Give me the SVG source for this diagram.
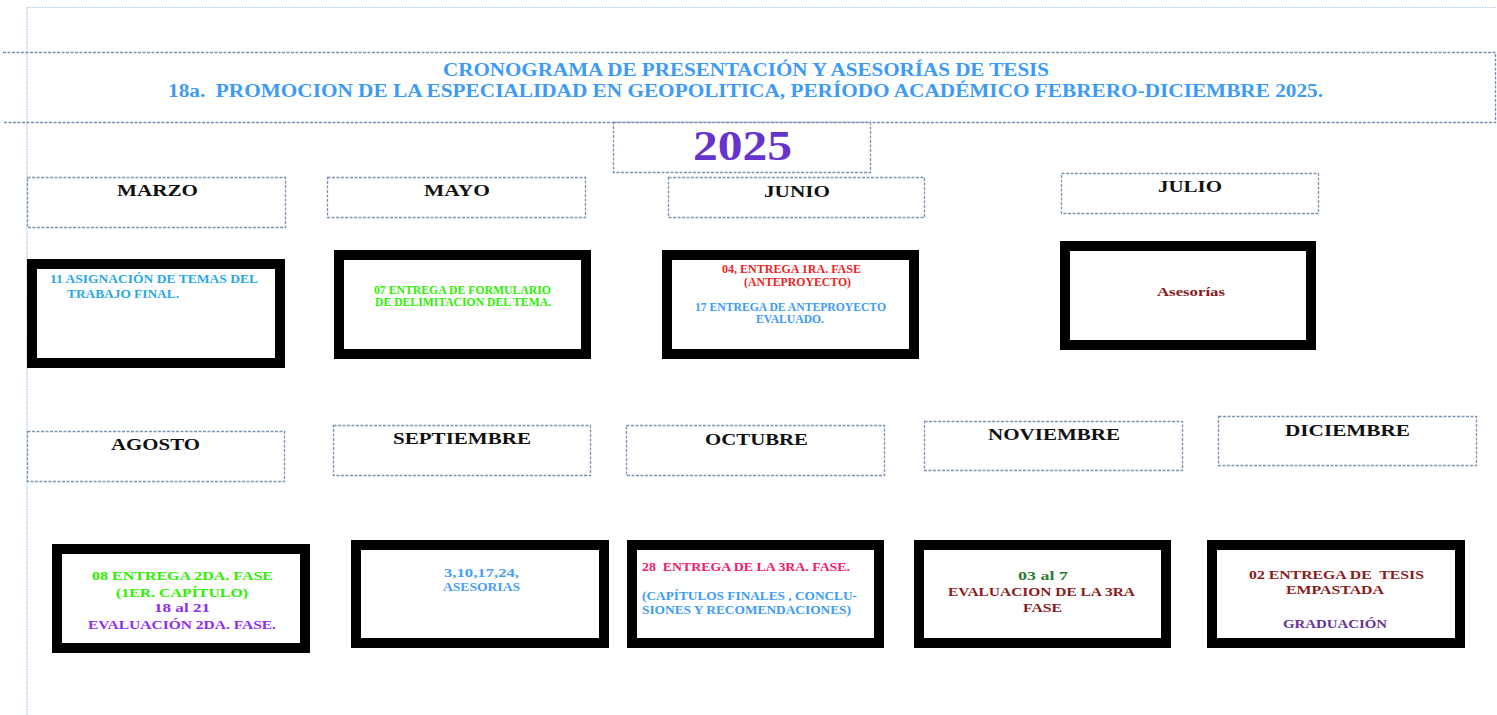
<svg xmlns="http://www.w3.org/2000/svg" width="1497" height="715" viewBox="0 0 1497 715">
<style>
.page{fill:none;stroke:#a9c8ee;stroke-width:1.2;stroke-dasharray:1.5,1}
.band{fill:none;stroke:#7590b3;stroke-width:1.3;stroke-dasharray:3,1.5}
.mbox{fill:#fff;stroke:#7a92b2;stroke-width:1.3;stroke-dasharray:3,1.5}
.cbox{fill:#fff;stroke:#000;stroke-width:10}
.hd{font-family:"Liberation Serif",serif;font-weight:bold;font-size:18px;fill:#3d9bf5}
.mo{font-family:"Liberation Serif",serif;font-weight:bold;font-size:17px;fill:#111}
.t{font-family:"Liberation Serif",serif;font-weight:bold;font-size:12px}
.t13{font-family:"Liberation Serif",serif;font-weight:bold;font-size:13.5px}
.c{text-anchor:middle}
.pre{white-space:pre}
</style>
<rect width="1497" height="715" fill="#fff"/>
<path class="page" d="M27 715 V7.5 H1497"/>
<g id="header">
<path class="band" d="M3 52.5 H1495.5 V122.5 H3"/>
<text class="hd c" x="746" y="76" textLength="606" lengthAdjust="spacingAndGlyphs">CRONOGRAMA DE PRESENTACIÓN Y ASESORÍAS DE TESIS</text>
<text class="hd c pre" x="745.5" y="97" textLength="1155" lengthAdjust="spacingAndGlyphs">18a.  PROMOCION DE LA ESPECIALIDAD EN GEOPOLITICA, PERÍODO ACADÉMICO FEBRERO-DICIEMBRE 2025.</text>
</g>
<g id="year">
<rect class="mbox" x="613.5" y="122.5" width="257" height="50"/>
<text x="742.5" y="160" text-anchor="middle" font-family="Liberation Serif,serif" font-weight="bold" font-size="42" fill="#6633cc" textLength="99" lengthAdjust="spacingAndGlyphs">2025</text>
</g>
<g id="m-marzo"><rect class="mbox" x="27.5" y="177.5" width="258" height="50"/><text class="mo c" x="157.5" y="196" textLength="81" lengthAdjust="spacingAndGlyphs">MARZO</text></g>
<g id="m-mayo"><rect class="mbox" x="327.5" y="177.5" width="258" height="40"/><text class="mo c" x="457" y="196" textLength="66" lengthAdjust="spacingAndGlyphs">MAYO</text></g>
<g id="m-junio"><rect class="mbox" x="668.5" y="177.5" width="256" height="40"/><text class="mo c" x="797" y="197" textLength="66" lengthAdjust="spacingAndGlyphs">JUNIO</text></g>
<g id="m-julio"><rect class="mbox" x="1061.5" y="173.5" width="257" height="40"/><text class="mo c" x="1190" y="192" textLength="64" lengthAdjust="spacingAndGlyphs">JULIO</text></g>
<g id="m-agosto"><rect class="mbox" x="27.5" y="431.5" width="257" height="50"/><text class="mo c" x="155.5" y="450" textLength="89" lengthAdjust="spacingAndGlyphs">AGOSTO</text></g>
<g id="m-septiembre"><rect class="mbox" x="333.5" y="425.5" width="257" height="50"/><text class="mo c" x="462" y="444" textLength="138" lengthAdjust="spacingAndGlyphs">SEPTIEMBRE</text></g>
<g id="m-octubre"><rect class="mbox" x="626.5" y="425.5" width="258" height="50"/><text class="mo c" x="756.5" y="445" textLength="103" lengthAdjust="spacingAndGlyphs">OCTUBRE</text></g>
<g id="m-noviembre"><rect class="mbox" x="924.5" y="421.5" width="258" height="49"/><text class="mo c" x="1054" y="440" textLength="132" lengthAdjust="spacingAndGlyphs">NOVIEMBRE</text></g>
<g id="m-diciembre"><rect class="mbox" x="1218.5" y="416.5" width="258" height="49"/><text class="mo c" x="1347.5" y="436" textLength="125" lengthAdjust="spacingAndGlyphs">DICIEMBRE</text></g>
<g id="b-marzo">
<rect class="cbox" x="32" y="264" width="248" height="99"/>
<text class="t" fill="#2aa8e6" x="50" y="283" textLength="208" lengthAdjust="spacingAndGlyphs">11 ASIGNACIÓN DE TEMAS DEL</text>
<text class="t" fill="#2aa8e6" x="67" y="298" textLength="112" lengthAdjust="spacingAndGlyphs">TRABAJO FINAL.</text>
</g>
<g id="b-mayo">
<rect class="cbox" x="339" y="255" width="247" height="99"/>
<text class="t c" fill="#2ef000" x="462.5" y="294" textLength="177" lengthAdjust="spacingAndGlyphs">07 ENTREGA DE FORMULARIO</text>
<text class="t c" fill="#2ef000" x="463" y="306" textLength="176" lengthAdjust="spacingAndGlyphs">DE DELIMITACION DEL TEMA.</text>
</g>
<g id="b-junio">
<rect class="cbox" x="667" y="255" width="247" height="99"/>
<text class="t c" fill="#f01e1e" x="791.5" y="273" textLength="139" lengthAdjust="spacingAndGlyphs">04, ENTREGA 1RA. FASE</text>
<text class="t c" fill="#f01e1e" x="797.5" y="286" textLength="107" lengthAdjust="spacingAndGlyphs">(ANTEPROYECTO)</text>
<text class="t c" fill="#3d9bf5" x="790.5" y="311" textLength="191" lengthAdjust="spacingAndGlyphs">17 ENTREGA DE ANTEPROYECTO</text>
<text class="t c" fill="#3d9bf5" x="790" y="323" textLength="68" lengthAdjust="spacingAndGlyphs">EVALUADO.</text>
</g>
<g id="b-julio">
<rect class="cbox" x="1065" y="246" width="246" height="99"/>
<text class="t c" fill="#8b1a1a" x="1191" y="296" textLength="68" lengthAdjust="spacingAndGlyphs">Asesorías</text>
</g>
<g id="b-agosto">
<rect class="cbox" x="57" y="549" width="248" height="99"/>
<text class="t13 c" fill="#2ef000" x="182.5" y="580" textLength="181" lengthAdjust="spacingAndGlyphs">08 ENTREGA 2DA. FASE</text>
<text class="t13 c" fill="#2ef000" x="182" y="597" textLength="132" lengthAdjust="spacingAndGlyphs">(1ER. CAPÍTULO)</text>
<text class="t13 c" fill="#8f2ef0" x="182" y="612" textLength="56" lengthAdjust="spacingAndGlyphs">18 al 21</text>
<text class="t13 c" fill="#8f2ef0" x="182" y="629" textLength="188" lengthAdjust="spacingAndGlyphs">EVALUACIÓN 2DA. FASE.</text>
</g>
<g id="b-septiembre">
<rect class="cbox" x="356" y="545" width="248" height="98"/>
<text class="t c" fill="#4aa0f5" x="481.5" y="577" textLength="75" lengthAdjust="spacingAndGlyphs">3,10,17,24,</text>
<text class="t c" fill="#4aa0f5" x="481.5" y="591" textLength="77" lengthAdjust="spacingAndGlyphs">ASESORIAS</text>
</g>
<g id="b-octubre">
<rect class="cbox" x="632" y="545" width="247" height="98"/>
<text class="t pre" fill="#f5186e" x="642" y="571" textLength="208" lengthAdjust="spacingAndGlyphs">28  ENTREGA DE LA 3RA. FASE.</text>
<text class="t" fill="#3d9bf5" x="642" y="600" textLength="215" lengthAdjust="spacingAndGlyphs">(CAPÍTULOS FINALES , CONCLU-</text>
<text class="t" fill="#3d9bf5" x="642" y="614" textLength="209" lengthAdjust="spacingAndGlyphs">SIONES Y RECOMENDACIONES)</text>
</g>
<g id="b-noviembre">
<rect class="cbox" x="919" y="545" width="247" height="98"/>
<text class="t13 c" fill="#2e7d32" x="1043" y="580" textLength="50" lengthAdjust="spacingAndGlyphs">03 al 7</text>
<text class="t13 c" fill="#8b1a1a" x="1041.5" y="596" textLength="187" lengthAdjust="spacingAndGlyphs">EVALUACION DE LA 3RA</text>
<text class="t13 c" fill="#8b1a1a" x="1042.5" y="612" textLength="39" lengthAdjust="spacingAndGlyphs">FASE</text>
</g>
<g id="b-diciembre">
<rect class="cbox" x="1212" y="545" width="248" height="98"/>
<text class="t13 c pre" fill="#8b1a1a" x="1336.5" y="579" textLength="175" lengthAdjust="spacingAndGlyphs">02 ENTREGA DE  TESIS</text>
<text class="t13 c" fill="#8b1a1a" x="1335" y="594" textLength="98" lengthAdjust="spacingAndGlyphs">EMPASTADA</text>
<text class="t13 c" fill="#663399" x="1335" y="628" textLength="104" lengthAdjust="spacingAndGlyphs">GRADUACIÓN</text>
</g>
<g id="connectors"/>
</svg>
